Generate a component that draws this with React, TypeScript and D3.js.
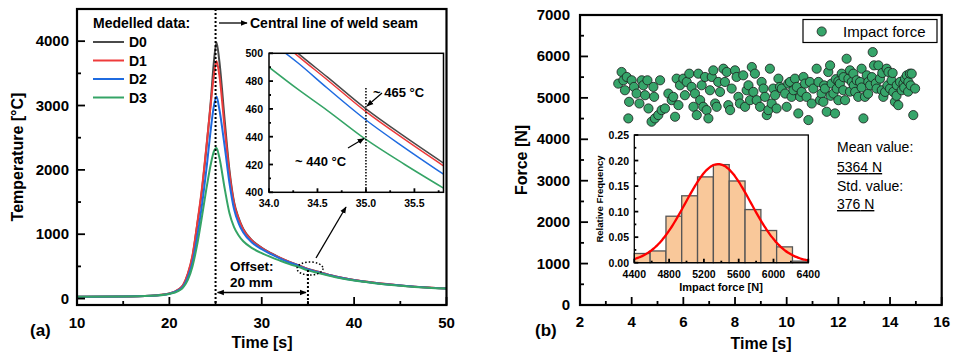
import React from 'react';
import * as d3 from 'd3';

// ---- panel (a): modelled temperature curves ----
const timeA = [10, 15, 18, 20, 21, 21.5, 22, 22.5, 23, 23.5, 24, 24.5, 24.8, 25.1, 25.4, 26, 26.5, 27, 27.5, 28, 29, 30, 31, 32, 33, 34, 35, 36, 38, 40, 42, 45, 48, 50];
const tempD0 = [30, 33, 45, 78, 140, 210, 380, 650, 1130, 1650, 2330, 3100, 3650, 3980, 3700, 2750, 2000, 1500, 1250, 1080, 900, 790, 705, 632, 570, 518, 460, 420, 345, 290, 250, 205, 172, 158];
const tempD1 = [30, 33, 45, 80, 145, 215, 390, 670, 1150, 1680, 2350, 3050, 3450, 3690, 3480, 2620, 1950, 1480, 1240, 1070, 893, 785, 702, 630, 568, 516, 458, 418, 343, 288, 248, 204, 171, 157];
const tempD2 = [30, 33, 44, 76, 130, 190, 330, 560, 950, 1420, 2000, 2650, 2980, 3140, 2950, 2350, 1800, 1390, 1170, 1025, 865, 767, 690, 622, 561, 509, 452, 412, 340, 285, 246, 202, 170, 156];
const tempD3 = [30, 33, 43, 72, 120, 175, 290, 500, 830, 1250, 1700, 2100, 2280, 2340, 2200, 1700, 1330, 1110, 980, 890, 780, 705, 643, 588, 536, 490, 438, 400, 332, 280, 243, 200, 169, 156];

// zoomed inset around 35 s
const timeInset = [34.0, 34.3, 34.6, 35.0, 35.4, 35.8];
const insetD0 = [518, 500, 483, 460, 440, 421];
const insetD1 = [516, 498, 481, 458, 438, 419];
const insetD2 = [509, 493, 475, 452, 432, 413];
const insetD3 = [490, 474, 459, 438, 420, 403];

const seriesNames = ['D0', 'D1', 'D2', 'D3'];
const seriesColors = ['#4a4a4a', '#ee3b3b', '#1f6be0', '#35a466'];

// ---- panel (b): impact force scatter ----
const forceTime = [3.48, 3.61, 3.68, 3.74, 3.81, 3.87, 3.9, 4.0, 4.09, 4.19, 4.3, 4.39, 4.45, 4.52, 4.61, 4.65, 4.77, 4.84, 4.87, 4.9, 5.03, 5.1, 5.16, 5.29, 5.42, 5.55, 5.61, 5.68, 5.74, 5.81, 5.87, 6.0, 6.06, 6.13, 6.23, 6.32, 6.39, 6.45, 6.52, 6.58, 6.65, 6.71, 6.77, 6.84, 6.9, 6.97, 7.03, 7.1, 7.16, 7.23, 7.29, 7.35, 7.42, 7.55, 7.61, 7.68, 7.74, 7.81, 7.87, 8.0, 8.06, 8.13, 8.19, 8.32, 8.39, 8.45, 8.52, 8.58, 8.65, 8.71, 8.77, 8.84, 8.97, 9.03, 9.1, 9.16, 9.23, 9.29, 9.35, 9.42, 9.48, 9.55, 9.61, 9.68, 9.74, 9.81, 9.94, 10.0, 10.06, 10.13, 10.19, 10.26, 10.32, 10.39, 10.45, 10.52, 10.58, 10.65, 10.71, 10.77, 10.84, 10.9, 10.97, 11.03, 11.16, 11.23, 11.29, 11.35, 11.42, 11.45, 11.48, 11.55, 11.61, 11.68, 11.7, 11.74, 11.81, 11.87, 11.9, 11.94, 12.0, 12.0, 12.06, 12.13, 12.19, 12.2, 12.26, 12.32, 12.39, 12.45, 12.45, 12.52, 12.58, 12.6, 12.65, 12.71, 12.77, 12.84, 12.9, 12.9, 12.97, 13.03, 13.1, 13.15, 13.16, 13.23, 13.3, 13.33, 13.38, 13.45, 13.48, 13.55, 13.61, 13.68, 13.7, 13.74, 13.81, 13.87, 13.9, 13.94, 14.0, 14.06, 14.1, 14.13, 14.19, 14.25, 14.26, 14.32, 14.39, 14.45, 14.52, 14.55, 14.58, 14.65, 14.7, 14.71, 14.77, 14.8, 14.84, 14.9, 14.97];
const forceValue = [5344, 5624, 5424, 5184, 5504, 4504, 4904, 5424, 5264, 5104, 4864, 5424, 5304, 5064, 5424, 4744, 4424, 5264, 5024, 4504, 4584, 5424, 4704, 4744, 5104, 4944, 5024, 4544, 5464, 4824, 5304, 5464, 5064, 5384, 5584, 5264, 4784, 5104, 4584, 5584, 4944, 5304, 4784, 5504, 4704, 4504, 5184, 5504, 5664, 4864, 4784, 5384, 5144, 5704, 5384, 5624, 4824, 4704, 5224, 5664, 5504, 5024, 4864, 5544, 4784, 5184, 5304, 4944, 5744, 5144, 5584, 4944, 4784, 5384, 5224, 5024, 4584, 4704, 5704, 4864, 5224, 5064, 4744, 5464, 5264, 5224, 5104, 4784, 5344, 5384, 5024, 5184, 5464, 5264, 4624, 5024, 5144, 5504, 5344, 5024, 4464, 5384, 4864, 5224, 5704, 5384, 4944, 5104, 4904, 5300, 5224, 4664, 5624, 5784, 5050, 5344, 5104, 4624, 5450, 5224, 4944, 5400, 5344, 5584, 5184, 5500, 4944, 5944, 5464, 5664, 5150, 5384, 5584, 5300, 5144, 5424, 5024, 5384, 5704, 5250, 4504, 5024, 5544, 5100, 5384, 5304, 5500, 6104, 5784, 5350, 5224, 5784, 5464, 5184, 5600, 5024, 5144, 5704, 5300, 5624, 5224, 5424, 5600, 5144, 4904, 5050, 5304, 4824, 5384, 5184, 5344, 5250, 5464, 5544, 5150, 5384, 5584, 5300, 5584, 4584, 5224];

// histogram of impact force
const binEdges = [4400, 4582, 4764, 4945, 5127, 5309, 5491, 5673, 5855, 6036, 6218, 6400];
const binFreq = [0.018, 0.023, 0.091, 0.131, 0.168, 0.192, 0.16, 0.104, 0.063, 0.031, 0.003];
const meanForce = 5364;
const stdForce = 376;

const FONT = 'Liberation Sans, Arial, Helvetica, sans-serif';

const App = () => {
  // scales
  const xA = d3.scaleLinear().domain([10, 50]).range([77, 446.5]);
  const yA = d3.scaleLinear().domain([-100, 4500]).range([305, 9]);
  const xI = d3.scaleLinear().domain([34, 35.8]).range([269, 443.5]);
  const yI = d3.scaleLinear().domain([400, 500]).range([192.3, 53.3]);
  const xB = d3.scaleLinear().domain([2, 16]).range([580, 941.7]);
  const yB = d3.scaleLinear().domain([0, 7000]).range([305, 15]);
  const xH = d3.scaleLinear().domain([4400, 6400]).range([634.3, 808.3]);
  const yH = d3.scaleLinear().domain([0, 0.25]).range([262.7, 135]);

  const mainSeries = [tempD0, tempD1, tempD2, tempD3];
  const insetSeries = [insetD0, insetD1, insetD2, insetD3];

  const lineA = (vals) =>
    d3.line().curve(d3.curveMonotoneX).x((d, i) => xA(timeA[i])).y((d) => yA(d))(vals);
  const lineI = (vals) =>
    d3.line().curve(d3.curveMonotoneX).x((d, i) => xI(timeInset[i])).y((d) => yI(d))(vals);

  // fitted normal curve, scaled to the bin width
  const binW = binEdges[1] - binEdges[0];
  const fitX = d3.range(4400, 6401, 20);
  const fitLine = d3.line().curve(d3.curveBasis)
    .x((d) => xH(d))
    .y((d) => yH(binW * Math.exp(-0.5 * ((d - meanForce) / stdForce) ** 2) / (stdForce * Math.sqrt(2 * Math.PI))))(fitX);

  const axisTicks = (vals, scale, pos, dir, len, orient, key) =>
    vals.map((v) => {
      const p = scale(v);
      return orient === 'x'
        ? <line key={key + v} x1={p} x2={p} y1={pos} y2={pos + dir * len} stroke="#000" strokeWidth={1.8} />
        : <line key={key + v} x1={pos} x2={pos + dir * len} y1={p} y2={p} stroke="#000" strokeWidth={1.8} />;
    });

  const lbl = { fontFamily: FONT, fontWeight: 'bold', fill: '#000' };

  return (
    <svg width={953} height={355} style={{ position: 'absolute', left: 0, top: 0, background: '#fff' }}>
      <defs>
        <marker id="arr" viewBox="0 0 10 10" refX="9" refY="5" markerWidth="7" markerHeight="7" orient="auto-start-reverse" markerUnits="userSpaceOnUse">
          <path d="M0,1 L10,5 L0,9 Z" fill="#000" />
        </marker>
        <clipPath id="clipA"><rect x={77} y={9} width={369.5} height={296} /></clipPath>
        <clipPath id="clipI"><rect x={269} y={53.3} width={174.5} height={139} /></clipPath>
      </defs>
      <rect x={0} y={0} width={953} height={355} fill="#fff" />

      {/* ===== panel (a) ===== */}
      <g clipPath="url(#clipA)">
        {mainSeries.map((s, i) => (
          <path key={i} d={lineA(s)} fill="none" stroke={seriesColors[i]} strokeWidth={2} />
        ))}
      </g>
      <line x1={xA(25)} x2={xA(25)} y1={9} y2={305} stroke="#000" strokeWidth={2} strokeDasharray="2,2" />
      <line x1={xA(35)} x2={xA(35)} y1={270} y2={305} stroke="#000" strokeWidth={2} strokeDasharray="2,2" />
      <line x1={xA(25) + 2} x2={xA(35) - 2} y1={292.5} y2={292.5} stroke="#000" strokeWidth={1.3} markerStart="url(#arr)" markerEnd="url(#arr)" />
      <text x={230} y={271} fontSize={13.5} {...lbl}>Offset:</text>
      <text x={230} y={287} fontSize={13.5} {...lbl}>20 mm</text>
      <ellipse cx={310} cy={268.5} rx={13} ry={6.5} fill="none" stroke="#000" strokeWidth={1.5} strokeDasharray="1.5,2" />
      <line x1={316} y1={258} x2={346} y2={207} stroke="#000" strokeWidth={1.3} markerEnd="url(#arr)" />

      <line x1={219} x2={247} y1={23} y2={23} stroke="#000" strokeWidth={1.3} markerEnd="url(#arr)" />
      <text x={250} y={28} fontSize={14} {...lbl}>Central line of weld seam</text>

      {/* legend */}
      <text x={93} y={28} fontSize={14} {...lbl}>Medelled data:</text>
      {seriesNames.map((n, i) => (
        <g key={n}>
          <line x1={93} x2={124} y1={42 + i * 18.5} y2={42 + i * 18.5} stroke={seriesColors[i]} strokeWidth={2} />
          <text x={129} y={47 + i * 18.5} fontSize={14} {...lbl}>{n}</text>
        </g>
      ))}

      {/* frame + ticks (a) */}
      <rect x={77} y={9} width={369.5} height={296} fill="none" stroke="#000" strokeWidth={2.2} />
      {axisTicks([10, 20, 30, 40, 50], xA, 305, -1, 8, 'x', 'ax')}
      {axisTicks([15, 25, 35, 45], xA, 305, -1, 4, 'x', 'axm')}
      {axisTicks([0, 1000, 2000, 3000, 4000], yA, 77, 1, 8, 'y', 'ay')}
      {axisTicks([500, 1500, 2500, 3500], yA, 77, 1, 4, 'y', 'aym')}
      {[10, 20, 30, 40, 50].map((v) => (
        <text key={'axl' + v} x={xA(v)} y={328} textAnchor="middle" fontSize={15} {...lbl}>{v}</text>
      ))}
      {[0, 1000, 2000, 3000, 4000].map((v) => (
        <text key={'ayl' + v} x={69} y={yA(v) + 5} textAnchor="end" fontSize={15} {...lbl}>{v}</text>
      ))}
      <text x={262} y={348} textAnchor="middle" fontSize={16} {...lbl}>Time [s]</text>
      <text transform="translate(23,157) rotate(-90)" textAnchor="middle" fontSize={16} {...lbl}>Temperature [°C]</text>
      <text x={30} y={336} fontSize={17} {...lbl}>(a)</text>

      {/* inset (a) */}
      <rect x={269} y={53.3} width={174.5} height={139} fill="#fff" />
      <g clipPath="url(#clipI)">
        {insetSeries.map((s, i) => (
          <path key={i} d={lineI(s)} fill="none" stroke={seriesColors[i]} strokeWidth={1.5} />
        ))}
      </g>
      <line x1={xI(35)} x2={xI(35)} y1={88} y2={192.3} stroke="#000" strokeWidth={1.5} strokeDasharray="1.5,1.5" />
      <rect x={269} y={53.3} width={174.5} height={139} fill="none" stroke="#000" strokeWidth={1.5} />
      {axisTicks([34, 34.5, 35, 35.5], xI, 192.3, -1, 4, 'x', 'ix')}
      {axisTicks([34.25, 34.75, 35.25, 35.75], xI, 192.3, -1, 2, 'x', 'ixm')}
      {axisTicks([400, 420, 440, 460, 480, 500], yI, 269, 1, 4, 'y', 'iy')}
      {axisTicks([410, 430, 450, 470, 490], yI, 269, 1, 2, 'y', 'iym')}
      {[34, 34.5, 35, 35.5].map((v) => (
        <text key={'ixl' + v} x={xI(v)} y={207} textAnchor="middle" fontSize={10.5} {...lbl}>{v.toFixed(1)}</text>
      ))}
      {[400, 420, 440, 460, 480, 500].map((v) => (
        <text key={'iyl' + v} x={263} y={yI(v) + 4} textAnchor="end" fontSize={10.5} {...lbl}>{v}</text>
      ))}
      <line x1={382} y1={93} x2={367} y2={106} stroke="#000" strokeWidth={1.2} markerEnd="url(#arr)" />
      <text x={373} y={97} fontSize={13} {...lbl}>~ 465 °C</text>
      <line x1={348} y1={148} x2={364} y2={138.5} stroke="#000" strokeWidth={1.2} markerEnd="url(#arr)" />
      <text x={295} y={166} fontSize={13} {...lbl}>~ 440 °C</text>

      {/* ===== panel (b) ===== */}
      {forceTime.map((t, i) => (
        <circle key={'p' + i} cx={xB(t)} cy={yB(forceValue[i])} r={4.6} fill="#36a56a" stroke="#1b1b1b" strokeWidth={0.8} />
      ))}
      <rect x={580} y={15} width={361.7} height={290} fill="none" stroke="#000" strokeWidth={2.2} />
      {axisTicks(d3.range(2, 17, 2), xB, 305, -1, 8, 'x', 'bx')}
      {axisTicks(d3.range(3, 16, 2), xB, 305, -1, 4, 'x', 'bxm')}
      {axisTicks(d3.range(0, 7001, 1000), yB, 580, 1, 8, 'y', 'by')}
      {axisTicks(d3.range(500, 7000, 1000), yB, 580, 1, 4, 'y', 'bym')}
      {d3.range(2, 17, 2).map((v) => (
        <text key={'bxl' + v} x={xB(v)} y={327} textAnchor="middle" fontSize={15} {...lbl}>{v}</text>
      ))}
      {d3.range(0, 7001, 1000).map((v) => (
        <text key={'byl' + v} x={570} y={yB(v) + 5} textAnchor="end" fontSize={15} {...lbl}>{v}</text>
      ))}
      <text x={761} y={349} textAnchor="middle" fontSize={16} {...lbl}>Time [s]</text>
      <text transform="translate(527,160) rotate(-90)" textAnchor="middle" fontSize={16} {...lbl}>Force [N]</text>
      <text x={535} y={336} fontSize={17} {...lbl}>(b)</text>

      {/* legend (b) */}
      <rect x={803} y={19.5} width={134} height={23} fill="#fff" stroke="#000" strokeWidth={1.2} />
      <circle cx={821.7} cy={31.5} r={4.6} fill="#36a56a" stroke="#1b1b1b" strokeWidth={0.8} />
      <text x={843} y={37} fontSize={15} fontFamily={FONT}>Impact force</text>

      <text x={837} y={152} fontSize={14} fontFamily={FONT}>Mean value:</text>
      <text x={837} y={172} fontSize={14} fontFamily={FONT} textDecoration="underline">{meanForce} N</text>
      <text x={837} y={191} fontSize={14} fontFamily={FONT}>Std. value:</text>
      <text x={837} y={209} fontSize={14} fontFamily={FONT} textDecoration="underline">{stdForce} N</text>

      {/* histogram inset */}
      <rect x={634.3} y={135} width={174} height={127.7} fill="#fff" />
      {binFreq.map((f, i) => (
        <rect key={'bin' + i} x={xH(binEdges[i])} y={yH(f)} width={xH(binEdges[i + 1]) - xH(binEdges[i])} height={yH(0) - yH(f)}
          fill="#f9c89a" stroke="#555" strokeWidth={1.3} />
      ))}
      <path d={fitLine} fill="none" stroke="#ff0000" strokeWidth={2.3} />
      <rect x={634.3} y={135} width={174} height={127.7} fill="none" stroke="#000" strokeWidth={1.3} />
      {axisTicks(d3.range(4400, 6401, 400), xH, 262.7, -1, 4, 'x', 'hx')}
      {axisTicks(d3.range(4600, 6400, 400), xH, 262.7, -1, 2, 'x', 'hxm')}
      {axisTicks([0, 0.05, 0.1, 0.15, 0.2, 0.25], yH, 634.3, 1, 4, 'y', 'hy')}
      {axisTicks([0.025, 0.075, 0.125, 0.175, 0.225], yH, 634.3, 1, 2, 'y', 'hym')}
      {d3.range(4400, 6401, 400).map((v) => (
        <text key={'hxl' + v} x={xH(v)} y={278} textAnchor="middle" fontSize={10.5} {...lbl}>{v}</text>
      ))}
      {[0, 0.05, 0.1, 0.15, 0.2, 0.25].map((v) => (
        <text key={'hyl' + v} x={629} y={yH(v) + 4} textAnchor="end" fontSize={10.5} {...lbl}>{v.toFixed(2)}</text>
      ))}
      <text x={721} y={291} textAnchor="middle" fontSize={11} {...lbl}>Impact force [N]</text>
      <text transform="translate(603,199) rotate(-90)" textAnchor="middle" fontSize={9.5} {...lbl}>Relative Frequency</text>
    </svg>
  );
};

export default App;
